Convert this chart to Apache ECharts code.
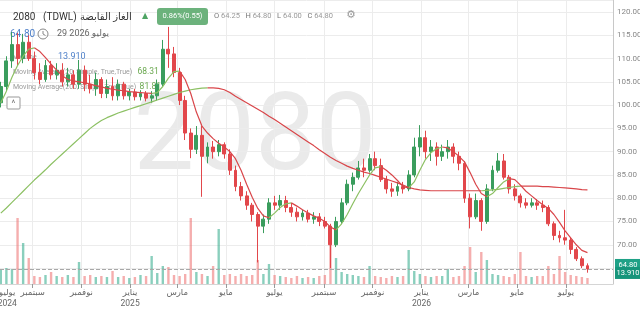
<!DOCTYPE html>
<html><head><meta charset="utf-8">
<script src="https://cdn.jsdelivr.net/npm/echarts@6/dist/echarts.min.js"></script>
<style>html,body{margin:0;padding:0;background:#fff}#c{width:640px;height:312px}</style>
</head><body><div id="c"></div>
<script>
// ---- data (weekly candles) ----
const firstCandleDate = '2024-07-23';
const opens = [100.5,104,109.5,113,110,113.5,110,107,105.5,108.5,
106.5,107.5,105,106.5,104.5,107.5,104.5,103.5,105.5,102.5,
104,102,104.5,102,102.8,101.8,102.5,101.5,102,104.5,
112,111,107,101,94,90.5,93.5,89,91,90,
91.5,89.5,86,82.5,80.5,78.5,76.5,74,75.5,79,
78.5,79.5,78,77,76,76.8,75.5,76,75,74,
70,75,79,83,84.5,86.5,86,88.5,87,84,
82,81.5,82.5,82,85,91,93,90,91,89,
90,91,89,87.5,80,76,79.5,75,82,86,
88,84.5,82,80.5,79,78.5,79,78.5,78,74.5,
72,71.5,71,69,67,65.5];
const closes = [104,109.5,113,110,113.5,110,107,105.5,108.5,106.5,
107.5,105,106.5,104.5,107.5,104.5,103.5,105.5,102.5,104,
102,104.5,102,102.8,101.8,102.5,101.5,102,104.5,112,
111,107,101,94,90.5,93.5,89,91,90,91.5,
89.5,86,82.5,80.5,78.5,76.5,74,75.5,79,78.5,
79.5,78,77,76,76.8,75.5,76,75,74,70,
75,79,83,84.5,86.5,86,88.5,87,84,82,
81.5,82.5,82,85,91,93,90,91,89,90,
91,89,87.5,80,76,79.5,75,82,86,88,
84.5,82,80.5,79,78.5,79,78.5,78,74.5,72,
71.5,71,69,67,65.5,64.8];
const lows = [99.5,103,108,108.5,109,109.5,105.5,104.5,105,105.5,
105.5,104,104,103.5,103.5,103,102.5,102,101.5,101.5,
101,101,101.2,101,101,101,100.8,100.5,101,104,
108,106,100,92.5,88.6,89.5,80.3,87.5,88.5,89,
88.5,85,81.5,79.5,77.5,75,66.2,72.5,74.5,77.5,
77.5,77,76,75,75.2,74.8,74.5,74,73.5,65,
69.5,74.5,78.5,81.5,84,84.5,85.5,86,83.5,81,
80.3,80.5,81,81.5,84.5,89,88.5,88,87,88,
88.5,87.5,86,79,73.5,75.5,73,74.5,81.5,85.5,
84,81,79.5,78,77.8,78,77.5,77,74,71,
70.5,70,68,66.5,65,64];
const highs = [105,110.5,115.7,115.5,115.3,115,111.5,109,109.7,109.5,
109,109,108,107.5,109.7,108.5,106.5,107,106,105.5,
106,105.5,105,103.5,103.5,103.2,103,103,105.5,114,
116.8,112.5,108,102,95,95.5,95.5,92,92.3,92.5,
92,90.5,87,83.5,81.5,79,77,76.5,80,80.5,
80.7,80.5,79,78,77.5,77.5,77,76.8,76,74.5,
76,80,84,85.5,88,88.5,89.5,90,88.5,84.8,
83.3,83.5,83.5,86,93,95.7,94.5,92.5,92,91.5,
92.5,91.8,90,88,81,81,80,83,87,89.7,
89.5,85,83,81,80,80,79.8,79.5,78.5,75,
73,77.5,71.5,69.5,67.5,66];
// volume in thousands of shares
const volumes = [70,80,75,330,205,130,40,35,45,60,
40,35,45,35,110,40,45,35,40,35,
65,35,40,30,35,45,40,140,55,90,
85,45,40,50,330,60,50,40,90,275,
45,50,40,50,40,45,120,50,100,45,
40,35,30,40,30,35,30,40,45,255,
130,60,50,45,40,35,90,40,35,30,
40,35,40,170,65,50,40,35,40,40,
75,35,40,90,185,60,160,120,50,45,
40,35,50,160,40,35,40,40,90,50,
140,60,45,40,35,30];
const maShort = [100.5,103,106,108.5,110.5,112,112.3,111.5,110.2,108.8,
107.5,106.3,105.5,105.2,105,104.8,104.5,104.2,103.9,103.6,
103.4,103.2,103.1,102.9,102.8,102.7,102.6,102.5,102.7,104,
105.8,107.2,107.3,105.5,102.5,98.5,95.5,94,92.8,91.8,
91,90,88.5,86,83,80.2,77.8,76.2,75.8,76.8,
78,78.8,79,78.3,77.5,76.8,76.2,75.7,75,73.8,
73.2,74.5,76.5,78.8,81,83,85,86.5,86.8,86,
85,83.8,82.5,82.2,83.5,86,88.3,89.8,90.6,91,
90.8,90,89,87.8,85.5,83,81,80.3,81,82.3,
83.5,84.2,84,82.8,81.5,80.5,79.5,78.6,77.8,76.5,
74.8,73,71.5,70,68.8,68.31];
const maLong = [76.8,77.9,79.1,80.3,81.5,82.7,83.9,85,86.1,87.3,
88.4,89.5,90.6,91.7,92.8,93.9,95,95.9,96.7,97.3,
97.8,98.3,98.7,99.1,99.5,99.9,100.3,100.7,101.1,101.5,
101.9,102.3,102.7,103,103.3,103.5,103.65,103.7,103.7,103.6,
103.3,102.7,101.9,101.2,100.5,99.8,99.1,98.4,97.6,96.9,
96.1,95.3,94.5,93.7,92.9,92.1,91.3,90.4,89.6,88.8,
88.1,87.5,86.9,86.4,86,85.6,85.3,84.9,84.5,84.1,
83.7,83.3,82.8,82.3,82,81.8,81.7,81.6,81.6,81.6,
81.6,81.6,81.6,81.6,81.6,81.6,81.6,81.7,81.8,81.9,
82.1,82.3,82.5,82.6,82.6,82.6,82.6,82.5,82.5,82.4,
82.3,82.2,82.1,82,81.85,81.81];
const lastDay = {open: 64.25, high: 64.80, low: 64.00, close: 64.80, change: 0.55, changePct: 0.86, volume: 13.91, date: '29 2026 يوليو'};
const axisStart = '2024-07-22';
const axisEnd = '2026-08-29';
const monthLabelDates = ['2024-07-31','2024-09-01','2024-11-01','2025-01-01','2025-03-01','2025-05-01','2025-07-01','2025-09-01','2025-11-01','2026-01-01','2026-03-01','2026-05-01','2026-07-01'];
const monthLabels = ['يوليو\n2024','سبتمبر','نوفمبر','يناير\n2025','مارس','مايو','يوليو','سبتمبر','نوفمبر','يناير\n2026','مارس','مايو','يوليو'];
const symbolCode = '2080';
const market = '(TDWL)';
const companyName = 'الغاز القابضة';

// ---- build ----
const toTime = s => { const [y,m,d] = s.split('-').map(Number); return Date.UTC(y, m-1, d); };
const DAY = 86400000;
const t0 = toTime(firstCandleDate);
const dates = closes.map((_, i) => t0 + i * 7 * DAY);
const UP = '#3a9d5d', DOWN = '#e2474b';
const MA_UP = '#8cc063', MA_DOWN = '#d9464a';

const candleData = dates.map((t, i) => [t, opens[i], closes[i], lows[i], highs[i]]);
const volData = dates.map((t, i) => ({
  value: [t, volumes[i]],
  itemStyle: {color: closes[i] >= opens[i] ? 'rgba(60,175,145,0.6)' : 'rgba(238,120,120,0.6)'}
}));
function splitSlope(arr) {
  const up = [], dn = [];
  const rising = i => arr[i + 1] > arr[i];
  for (let i = 0; i < arr.length; i++) {
    const prevSeg = i > 0 ? rising(i - 1) : null;
    const nextSeg = i < arr.length - 1 ? rising(i) : null;
    up.push([dates[i], (prevSeg === true || nextSeg === true) ? arr[i] : null]);
    dn.push([dates[i], (prevSeg === false || nextSeg === false) ? arr[i] : null]);
  }
  return {up, dn};
}
const ms = splitSlope(maShort), ml = splitSlope(maLong);
const lastShort = maShort[maShort.length - 1], lastLong = maLong[maLong.length - 1];

const labelTimes = monthLabelDates.map(toTime);
const tickTimes = labelTimes.slice(1);
const labelMap = {};
labelTimes.forEach((t, i) => labelMap[t] = monthLabels[i]);

const FONT = 'Roboto, "DejaVu Sans", sans-serif';
const badge = (text, bg) => ({show: true, position: 'end', distance: [2, 0], formatter: text, color: '#fff',
  backgroundColor: bg, padding: [2, 3, 2, 3], fontSize: 7.5, fontFamily: FONT, borderRadius: 1});
const lineSeries = (data, color) => ({type: 'line', data, showSymbol: false, connectNulls: false,
  lineStyle: {color, width: 1.2}, itemStyle: {color}, silent: true, z: 3});

const txt = (x, y, text, fill, size, extra) => ({type: 'text', x, y, z: 1,
  style: Object.assign({text, fill, fontSize: size, fontFamily: FONT, verticalAlign: 'middle'}, extra || {})});
const pill = {color: '#fff', padding: [2, 3, 2, 3], fontSize: 7.5, fontFamily: FONT, lineHeight: 8};

const chart = echarts.init(document.getElementById('c'), null, {renderer: 'canvas'});
chart.setOption({
  animation: false,
  textStyle: {fontFamily: FONT},
  grid: {left: 0, right: 27, top: 0, bottom: 28, containLabel: false, outerBoundsMode: 'none'},
  xAxis: {
    type: 'value', min: toTime(axisStart), max: toTime(axisEnd), scale: true,
    axisLine: {show: true, lineStyle: {color: '#d5d5d5'}},
    axisTick: {show: true, customValues: tickTimes, length: 4, lineStyle: {color: '#999'}},
    axisLabel: {customValues: labelTimes, formatter: v => labelMap[v] || '', color: '#666', fontSize: 8.5, lineHeight: 11, margin: 3, hideOverlap: false, showMinLabel: true, showMaxLabel: true},
    splitLine: {show: true, lineStyle: {color: '#ececec'}}
  },
  yAxis: [{
    type: 'value', position: 'right', min: 61.57, max: 122.58, splitNumber: 12, minInterval: 5, maxInterval: 5,
    axisLine: {show: true, lineStyle: {color: '#c8c8c8'}}, axisTick: {show: false},
    axisLabel: {formatter: v => v.toFixed(2), color: '#888', fontSize: 8, margin: 4, showMinLabel: false, showMaxLabel: false},
    splitLine: {show: true, lineStyle: {color: '#ececec'}}
  }, {
    type: 'value', min: 0, max: 1420, show: false, splitLine: {show: false}
  }],
  graphic: [
    {type: 'text', x: 255, y: 142, z: -1, silent: true, style: {text: symbolCode, fontSize: 108, fontFamily: 'Roboto', fill: '#eaeaea', align: 'center', verticalAlign: 'middle'}},
    txt(13, 17, symbolCode, '#333', 10),
    txt(43, 17, market, '#333', 10),
    txt(80, 17, companyName, '#333', 10),
    txt(142, 16, '▲', '#4ea463', 8),
    {type: 'rect', z: 1, shape: {x: 157, y: 8, width: 51, height: 17, r: 3}, style: {fill: '#6cb27c'}},
    txt(182.5, 16.5, lastDay.changePct.toFixed(2) + '%(' + lastDay.change.toFixed(2) + ')', '#fff', 7.5, {align: 'center'}),
    txt(214, 16, '{k|O} {v|' + lastDay.open.toFixed(2) + '}   {k|H} {v|' + lastDay.high.toFixed(2) + '}   {k|L} {v|' + lastDay.low.toFixed(2) + '}   {k|C} {v|' + lastDay.close.toFixed(2) + '}', '#888', 7.5,
      {rich: {k: {fill: '#777', fontSize: 7.5, fontFamily: FONT}, v: {fill: '#999', fontSize: 7.5, fontFamily: FONT}}}),
    txt(346, 15, '⚙', '#999', 11),
    txt(10, 34, lastDay.close.toFixed(2), '#4f80c9', 10),
    {type: 'circle', z: 1, shape: {cx: 43, cy: 34, r: 5}, style: {fill: 'none', stroke: '#888', lineWidth: 1}},
    {type: 'polyline', z: 1, shape: {points: [[43, 31], [43, 34], [45.5, 35.5]]}, style: {fill: 'none', stroke: '#888', lineWidth: 1}},
    txt(57, 34, lastDay.date, '#666', 9),
    txt(13, 57, 'Volume', '#999', 7),
    txt(58, 57, lastDay.volume.toFixed(3), '#4f80c9', 9),
    txt(13, 72, '{g|Moving Average(20, Simple, True,True)}   {v|' + lastShort.toFixed(2) + '}', '#999', 7,
      {rich: {g: {fill: '#9a9a9a', fontSize: 7, fontFamily: FONT}, v: {fill: '#6aa84f', fontSize: 8.5, fontFamily: FONT}}}),
    txt(13, 87, '{g|Moving Average(200, Simple, True,True)}  {v|' + lastLong.toFixed(2) + '}', '#999', 7,
      {rich: {g: {fill: '#9a9a9a', fontSize: 7, fontFamily: FONT}, v: {fill: '#6aa84f', fontSize: 8.5, fontFamily: FONT}}}),
    {type: 'rect', z: 1, shape: {x: 7, y: 97, width: 13, height: 12, r: 1}, style: {fill: '#fff', stroke: '#999', lineWidth: 1}},
    txt(13.5, 104, '^', '#777', 9, {align: 'center'})
  ],
  series: [
    {type: 'bar', name: 'Volume', xAxisIndex: 0, yAxisIndex: 1, data: volData, barWidth: 2.4, silent: true},
    {type: 'candlestick', name: 'Price', data: candleData, encode: {x: 0, y: [1, 2, 3, 4]}, barWidth: 3.4, silent: true,
      itemStyle: {color: UP, color0: DOWN, borderColor: UP, borderColor0: DOWN, borderWidth: 1},
      markLine: {symbol: 'none', silent: true, data: [
        {yAxis: lastDay.close, lineStyle: {color: '#a8a8a8', type: 'dashed', width: 1},
          label: {show: true, position: 'end', distance: [2, 6],
            formatter: '{a|' + lastDay.close.toFixed(2) + '}\n{b|' + lastDay.volume.toFixed(3) + '}',
            rich: {a: Object.assign({backgroundColor: '#1fa187', width: 20, align: 'center'}, pill),
                   b: Object.assign({backgroundColor: '#16957b', width: 20, align: 'center'}, pill)}}},
        {yAxis: lastLong, lineStyle: {opacity: 0}, label: badge(lastLong.toFixed(2), '#77983a')},
        {yAxis: lastShort, lineStyle: {opacity: 0}, label: badge(lastShort.toFixed(2), '#77983a')}
      ]}},
    lineSeries(ml.up, MA_UP), lineSeries(ml.dn, MA_DOWN),
    lineSeries(ms.up, MA_UP), lineSeries(ms.dn, MA_DOWN)
  ]
});
</script></body></html>
